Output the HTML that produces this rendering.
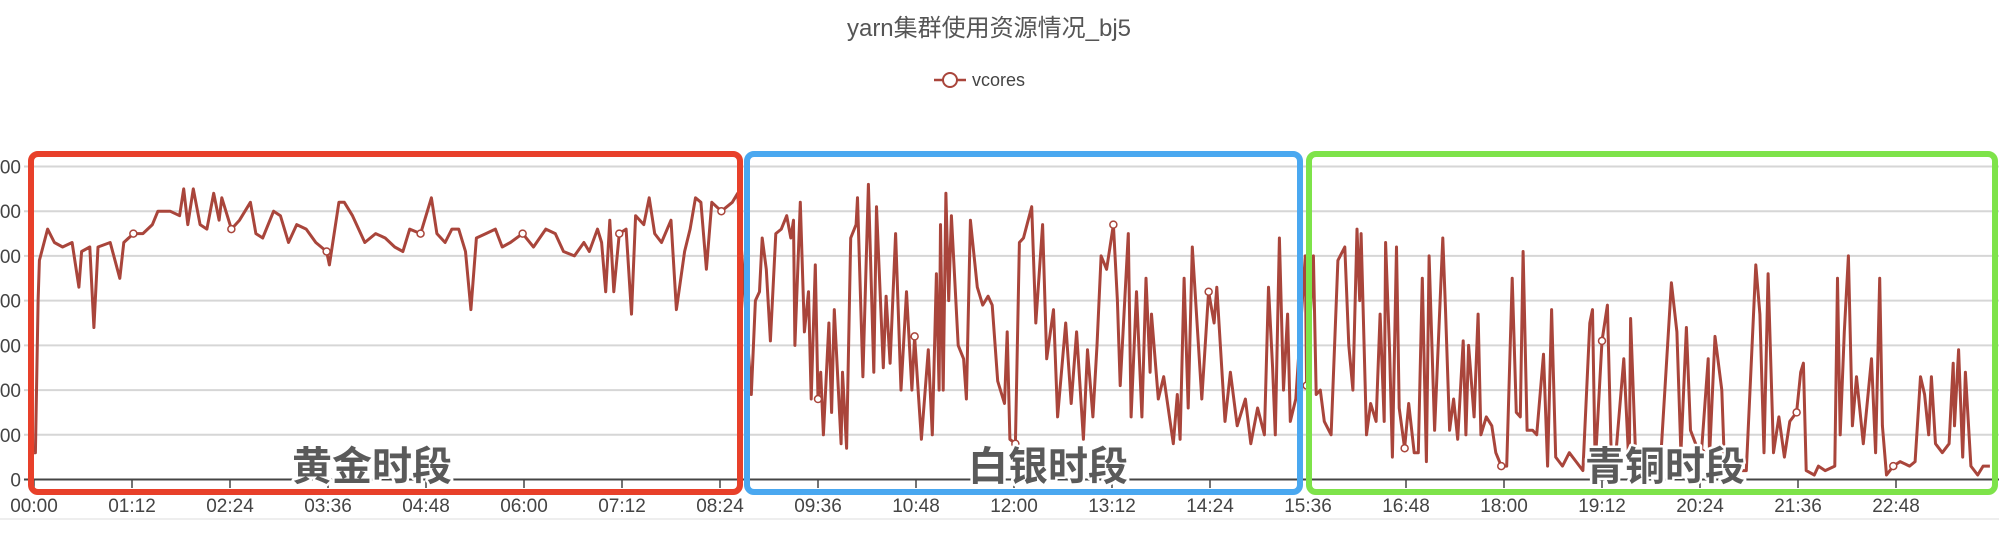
<!DOCTYPE html>
<html><head><meta charset="utf-8">
<style>
html,body{margin:0;padding:0;background:#fff;}
svg{display:block;}
</style></head>
<body>
<svg id="chart" width="1999" height="533" viewBox="0 0 1999 533" xmlns="http://www.w3.org/2000/svg" font-family="Liberation Sans, Noto Sans CJK SC, sans-serif">
  <text x="989" y="36" text-anchor="middle" font-size="24" fill="#555">yarn集群使用资源情况_bj5</text>
  <g>
    <line x1="934" y1="80" x2="966" y2="80" stroke="#a9453b" stroke-width="2.5"/>
    <circle cx="950" cy="80" r="7" fill="#fff" stroke="#a9453b" stroke-width="2"/>
    <text x="972" y="86" font-size="18" fill="#444">vcores</text>
  </g>
  <line x1="0" y1="519" x2="1999" y2="519" stroke="#eee" stroke-width="2"/>
  <g id="grid"></g>
  <g id="xaxis"></g>
  <g id="series"></g>
  <g id="boxes"></g>
</svg>
<script>
const yTicks = [0,1000,2000,3000,4000,5000,6000,7000];
const xTickLabels = ["00:00","01:12","02:24","03:36","04:48","06:00","07:12","08:24","09:36","10:48","12:00","13:12","14:24","15:36","16:48","18:00","19:12","20:24","21:36","22:48"];
const xTickMinutes = [0,72,144,216,288,360,432,504,576,648,720,792,864,936,1008,1080,1152,1224,1296,1368];
const times = [0,1,3,4,10,15,21,28,33,35,41,44,47,56,63,66,73,80,87,91,100,107,110,113,117,122,127,132,136,138,145,151,159,163,168,176,181,187,193,200,207,215,217,224,228,234,243,251,258,265,271,276,284,292,296,302,307,312,317,321,325,332,339,344,350,359,367,376,383,389,397,404,408,414,417,420,423,426,430,435,439,442,448,452,456,461,468,472,478,482,486,490,494,498,505,513,517,
527,530,533,535,538,541,545,549,553,556,558,559,563,566,569,571,574,576,578,580,584,586,588,593,594,597,600,604,605,609,613,617,619,624,626,629,633,637,641,645,647,650,652,657,660,663,665,666,668,670,672,674,679,683,685,688,693,697,701,704,708,713,715,717,721,724,727,733,736,741,744,749,752,758,762,766,771,774,778,781,784,788,793,796,798,804,806,810,814,817,820,821,826,830,837,840,842,845,848,851,858,863,867,869,875,879,884,890,894,899,904,907,910,912,915,918,921,923,927,934,935,
940,942,945,948,953,954,958,963,966,969,972,974,975,979,982,986,989,992,993,996,998,1001,1003,1007,1010,1014,1017,1020,1023,1025,1029,1035,1037,1040,1043,1046,1050,1052,1054,1058,1061,1063,1067,1071,1074,1078,1082,1086,1089,1092,1094,1097,1101,1104,1109,1112,1115,1118,1123,1128,1133,1138,1143,1145,1147,1152,1156,1159,1162,1168,1172,1173,1177,1182,1188,1195,1203,1207,1210,1214,1217,1222,1225,1230,1231,1235,1240,1242,1251,1258,1265,1268,1271,1274,1278,1282,1286,1290,1295,1298,1300,1302,1308,1311,1316,1323,1325,1327,1330,1333,1336,1339,1344,1350,1353,1356,1358,1361,1366,1371,1378,1382,1386,1389,1392,1394,1397,1402,1407,1410,1411,1414,1417,1419,1423,1428,1432,1437];
const vcores = [600,600,4000,4900,5600,5300,5200,5300,4300,5100,5200,3400,5200,5300,4500,5300,5500,5500,5700,6000,6000,5900,6500,5700,6500,5700,5600,6400,5800,6300,5600,5800,6200,5500,5400,6000,5900,5300,5700,5600,5300,5100,4800,6200,6200,5900,5300,5500,5400,5200,5100,5600,5500,6300,5500,5300,5600,5600,5100,3800,5400,5500,5600,5200,5300,5500,5200,5600,5500,5100,5000,5300,5100,5600,5300,4200,5800,4200,5500,5600,3700,5900,5700,6300,5500,5300,5800,3800,5100,5600,6300,6200,4700,6200,6000,6200,6400,
1900,4000,4200,5400,4700,3100,5500,5600,5900,5400,5800,3000,6200,3300,4200,1800,4800,1800,2400,1000,3500,1500,3800,800,2400,700,5400,5700,6300,2300,6600,2400,6100,2500,4100,2600,5500,2000,4200,2000,3200,1800,900,2900,1000,4600,2000,5700,2000,6400,4000,5900,3000,2700,1800,5800,4300,3900,4100,3900,2200,1700,3300,900,800,5300,5400,6100,3500,5700,2700,3800,1400,3500,1700,3300,900,2900,1400,3000,5000,4700,5700,4000,2100,5500,1400,4200,1400,4500,2400,3700,1800,2300,800,1900,900,4500,1600,5200,1800,4200,3500,4300,1300,2400,1200,1800,800,1600,1000,4300,2500,1000,5400,2000,3700,1300,1800,5000,2100,
5000,1900,2000,1300,1000,1800,4900,5200,3000,2000,5600,4000,5500,1000,1700,1300,3700,1300,5300,2800,500,5200,1600,700,1700,600,600,4500,400,5000,1100,5400,3800,1100,1800,900,3100,1000,3000,1400,3700,1000,1400,1200,600,300,300,4500,1500,1400,5100,1100,1100,1000,2800,300,3800,500,300,600,400,200,3500,3800,300,3100,3900,300,500,2700,200,3600,300,400,300,400,4400,3300,600,3400,1100,700,600,2700,500,3200,2000,300,200,200,4800,3700,600,4600,600,1400,500,1300,1500,2400,2600,200,100,300,200,300,4500,1000,3300,5000,1200,2300,800,2700,600,4500,1200,100,300,400,300,400,2300,1900,1000,2300,800,600,800,2600,1200,2900,500,2400,300,100,300,300];

const NS = 'http://www.w3.org/2000/svg';
const X0 = 34, XPERMIN = 98/72, Y0 = 479.5, YTOP = 166.5, YMAX = 7000;
function xScale(m){ return X0 + m*XPERMIN; }
function yScale(v){ return Y0 - (v/YMAX)*(Y0-YTOP); }
function mk(tag, attrs, parent){ const e=document.createElementNS(NS,tag); for(const k in attrs) e.setAttribute(k,attrs[k]); parent.appendChild(e); return e; }

const grid = document.getElementById('grid');
yTicks.forEach(v=>{
  const y = yScale(v);
  const gl = mk('line',{x1:24,x2:1999,y1:y,y2:y,stroke: v===0?'#444':'#d6d6d6','stroke-width':2},grid);
  
  
  const t = mk('text',{x:21,y:y+7,'text-anchor':'end','font-size':19,fill:'#444'},grid);
  t.textContent = String(v);
  
  
});

const xaxis = document.getElementById('xaxis');
xTickMinutes.forEach((m,i)=>{
  const x = xScale(m);
  const tk = mk('line',{x1:x,x2:x,y1:480,y2:488,stroke:'#444','stroke-width':1.5},xaxis);
  
  
  const t = mk('text',{x:x,y:512,'text-anchor':'middle','font-size':19,fill:'#444'},xaxis);
  t.textContent = xTickLabels[i];
  
  
});

const series = document.getElementById('series');
let d = '';
times.forEach((m,i)=>{ d += (i?'L':'M') + xScale(m).toFixed(1) + ' ' + yScale(vcores[i]).toFixed(1); });
const path = mk('path',{d:d,fill:'none',stroke:'#a9453b','stroke-width':3,'stroke-linejoin':'round'},series);


xTickMinutes.forEach(tm=>{
  let best=0; times.forEach((m,i)=>{ if(Math.abs(m-tm)<Math.abs(times[best]-tm)) best=i; });
  if (tm===0) return;
  const c = mk('circle',{cx:xScale(times[best]),cy:yScale(vcores[best]),r:3.5,fill:'#fff',stroke:'#a9453b','stroke-width':1.5},series);
  
  
});

const boxes = document.getElementById('boxes');
const boxDefs = [[31,740,'#e8402a','gold-period'],[747,1300,'#4aa8f0','silver-period'],[1309,1995,'#7ee34a','bronze-period']];
boxDefs.forEach(b=>{
  const r = mk('rect',{x:b[0],y:154,width:b[1]-b[0],height:338,rx:7,fill:'none',stroke:b[2],'stroke-width':6},boxes);
  
  
});
const labels = [[372,'黄金时段','gold-period-label'],[1048,'白银时段','silver-period-label'],[1665,'青铜时段','bronze-period-label']];
labels.forEach(l=>{
  const t = mk('text',{x:l[0],y:480,'text-anchor':'middle','font-size':40,'font-weight':'bold',fill:'#5a5a5a',stroke:'#fff','stroke-width':5,'paint-order':'stroke','stroke-linejoin':'round'},boxes);
  t.textContent = l[1];
  
  
});
</script>
</body></html>
